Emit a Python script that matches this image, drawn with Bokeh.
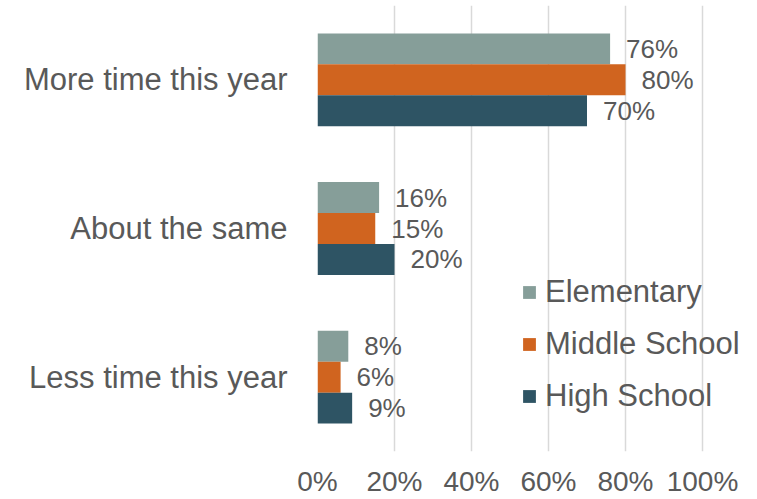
from bokeh.plotting import figure
from bokeh.models import ColumnDataSource, FactorRange, Range1d, FixedTicker, Legend, LegendItem
from bokeh.transform import dodge
from bokeh.core.properties import value
from bokeh.embed import file_html
from bokeh.resources import INLINE

categories = ["More time this year", "About the same", "Less time this year"]
elementary = [76, 16, 8]
middle_school = [80, 15, 6]
high_school = [70, 20, 9]
series_names = ["Elementary", "Middle School", "High School"]
series_colors = ["#869E99", "#D0641F", "#2E5464"]
tick_values = [0, 20, 40, 60, 80, 100]
tick_labels = ["0%", "20%", "40%", "60%", "80%", "100%"]

FONT = "Liberation Sans"
TXT = "#595959"

src = ColumnDataSource(dict(
    cat=categories,
    elem=elementary, mid=middle_school, high=high_school,
    elem_l=[f"{v}%" for v in elementary],
    mid_l=[f"{v}%" for v in middle_school],
    high_l=[f"{v}%" for v in high_school],
))

# frame spans 440px; 100% sits at 385px, rest is room for legend/labels
x_end = 100 * 440 / 385
p = figure(y_range=FactorRange(*reversed(categories)), x_range=Range1d(0, x_end),
           width=757, height=499, output_backend="svg", toolbar_location=None,
           min_border_left=317, min_border_right=0, min_border_top=5, min_border_bottom=48)
p.outline_line_color = None
p.background_fill_color = "white"
p.border_fill_color = "white"

bh = 0.208
offsets = [bh, 0.0, -bh]
cols = ["elem", "mid", "high"]
renderers = []
for col, off, color in zip(cols, offsets, series_colors):
    r = p.hbar(y=dodge("cat", off, range=p.y_range), left=0, right=col, height=bh,
               source=src, fill_color=color, line_color=None)
    renderers.append(r)
    p.text(x=col, y=dodge("cat", off, range=p.y_range), text=col + "_l", source=src,
           x_offset=16, text_baseline="middle", text_align="left",
           text_font=value(FONT), text_font_size="26px", text_color=TXT)

p.xaxis.ticker = FixedTicker(ticks=tick_values)
p.xaxis.major_label_overrides = {v: l for v, l in zip(tick_values, tick_labels)}
for ax in (p.xaxis, p.yaxis):
    ax.axis_line_color = None
    ax.major_tick_line_color = None
    ax.minor_tick_line_color = None
    ax.major_label_text_font = FONT
    ax.major_label_text_color = TXT
p.xaxis.major_label_text_font_size = "28px"
p.xaxis.major_label_standoff = 8
p.yaxis.major_label_text_font_size = "31px"
p.yaxis.major_label_standoff = 24

p.ygrid.visible = False
p.xgrid.grid_line_color = "#D9D9D9"
p.xgrid.grid_line_width = 1.5

legend = Legend(items=[LegendItem(label=n, renderers=[r]) for n, r in zip(series_names, renderers)],
                location=(204, 37), orientation="vertical",
                glyph_width=16, glyph_height=16, label_standoff=8, spacing=16,
                padding=0, margin=0,
                label_text_font=FONT, label_text_font_size="31px", label_text_color=TXT,
                background_fill_alpha=0, border_line_alpha=0)
p.add_layout(legend)

open("out.html", "w").write(file_html(p, INLINE))
